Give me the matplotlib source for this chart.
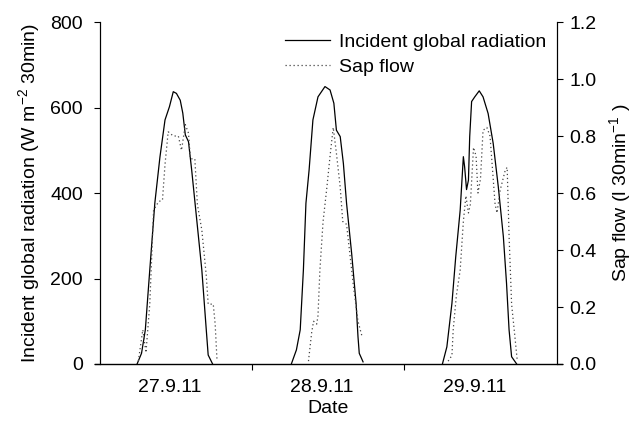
import matplotlib
matplotlib.use("Agg")
import matplotlib.pyplot as plt
from matplotlib.ticker import FixedLocator, FormatStrFormatter

plt.rcParams['font.family'] = ['Liberation Sans', 'DejaVu Sans']
plt.rcParams['mathtext.fontset'] = 'custom'
plt.rcParams['mathtext.rm'] = 'Liberation Sans'

# day labels and the hour of day / value readings for each day
days = ["27.9.11", "28.9.11", "29.9.11"]

rad_hours = [
    [5.9, 6.6, 7.2, 7.9, 8.7, 9.5, 10.3, 11.0, 11.6, 12.1, 12.7, 13.1, 13.5, 14.0,
     14.5, 15.3, 16.1, 16.8, 17.1, 17.8],
    [6.2, 7.0, 7.6, 8.1, 8.5, 9.0, 9.6, 10.4, 11.5, 12.3, 12.9, 13.3, 13.9, 14.4,
     14.9, 15.7, 16.4, 16.7, 16.9, 17.5],
    [6.0, 6.7, 7.5, 8.1, 8.8, 9.3, 9.5, 9.8, 10.1, 10.3, 10.6, 11.1, 11.8, 12.4,
     13.2, 14.0, 14.8, 15.6, 16.1, 16.5, 16.9, 17.7],
]
radiation = [
    [0, 25, 80, 220, 377, 484, 571, 602, 637, 633, 617, 587, 536, 520,
     454, 337, 220, 80, 21, 0],
    [0, 33, 80, 220, 376, 454, 571, 625, 649, 641, 610, 547, 532, 469,
     376, 259, 142, 64, 25, 5],
    [0, 40, 142, 251, 360, 485, 461, 408, 430, 532, 614, 625, 639, 625,
     586, 516, 415, 298, 189, 80, 17, 0],
]

sap_hours = [
    [6.1, 6.8, 7.3, 7.9, 8.5, 9.3, 9.9, 10.3, 10.8, 11.6, 12.4, 12.9, 13.5, 14.0,
     14.3, 15.0, 15.4, 16.1, 16.8, 17.1, 17.9, 18.2, 18.5],
    [8.9, 9.4, 9.7, 10.2, 10.4, 10.7, 11.2, 11.8, 12.3, 12.8, 13.3, 13.9, 14.3,
     14.9, 15.4, 16.0, 16.7, 17.3],
    [6.9, 7.5, 7.7, 8.2, 8.8, 9.3, 9.7, 10.1, 10.4, 10.9, 11.3, 11.6, 12.0, 12.4,
     13.0, 13.5, 13.9, 14.3, 14.6, 15.1, 15.9, 16.2, 16.5, 16.9, 17.4, 17.8],
]
sap_flow = [
    [0.01, 0.12, 0.04, 0.21, 0.54, 0.57, 0.575, 0.70, 0.815, 0.80, 0.80, 0.75, 0.84,
     0.81, 0.72, 0.72, 0.56, 0.47, 0.31, 0.21, 0.21, 0.14, 0.01],
    [0.01, 0.11, 0.15, 0.14, 0.17, 0.33, 0.50, 0.62, 0.73, 0.83, 0.74, 0.62, 0.50,
     0.49, 0.39, 0.27, 0.15, 0.10],
    [0.01, 0.03, 0.12, 0.24, 0.33, 0.50, 0.59, 0.53, 0.56, 0.76, 0.73, 0.60, 0.65,
     0.82, 0.83, 0.80, 0.68, 0.56, 0.53, 0.61, 0.68, 0.69, 0.45, 0.21, 0.10, 0.01],
]

FS = 14

fig = plt.figure(figsize=(6.44, 4.21), dpi=100)
ax = fig.add_axes([0.1547, 0.1354, 0.7097, 0.8123])
ax2 = ax.twinx()

for i in range(len(days)):
    x = [i + h / 24 for h in rad_hours[i]]
    ax.plot(x, radiation[i], color='black', lw=0.9,
            label='Incident global radiation' if i == 0 else None)
    xs = [i + h / 24 for h in sap_hours[i]]
    ax2.plot(xs, sap_flow[i], color='#444444', lw=0.9, ls=(0, (1, 2.2)),
             label='Sap flow' if i == 0 else None)

ax.set_xlim(0, 3)
ax.set_ylim(0, 800)
ax2.set_ylim(0, 1.2)
ax.set_yticks(range(0, 801, 200))
ax2.set_yticks([0.0, 0.2, 0.4, 0.6, 0.8, 1.0, 1.2])
ax2.yaxis.set_major_formatter(FormatStrFormatter('%.1f'))

ax.xaxis.set_major_locator(FixedLocator([1, 2]))
ax.xaxis.set_minor_locator(FixedLocator([0.46, 1.46, 2.46]))
ax.set_xticklabels([])
ax.set_xticklabels(days, minor=True)
ax.tick_params(axis='x', which='minor', length=0, pad=11, labelsize=FS)
ax.tick_params(axis='x', which='major', length=4, direction='out')

for a in (ax, ax2):
    a.spines['top'].set_visible(False)
    a.spines['bottom'].set_visible(False)
ax.tick_params(axis='y', length=4, direction='out', width=0.8, labelsize=FS, pad=8)
ax2.tick_params(axis='y', length=4, direction='out', width=0.8, labelsize=FS, pad=5)
ax.plot([-0.01, 1.012], [0, 0], transform=ax.transAxes, color='black',
        lw=1.0, clip_on=False)

ax.set_xlabel('Date', fontsize=FS, labelpad=3)
ax.set_ylabel('Incident global radiation (W m$^{-2}$ 30min)', fontsize=FS, labelpad=5)
ax2.set_ylabel('Sap flow (l 30min$^{-1}$ )', fontsize=FS, labelpad=8)

h1, l1 = ax.get_legend_handles_labels()
h2, l2 = ax2.get_legend_handles_labels()
ax2.legend(h1 + h2, l1 + l2, loc='upper left', bbox_to_anchor=(0.4056, 0.968),
           frameon=False, fontsize=FS, handlelength=2.3, handletextpad=0.5,
           labelspacing=0.4, borderaxespad=0, borderpad=0)

fig.savefig('out.png', dpi=100)
